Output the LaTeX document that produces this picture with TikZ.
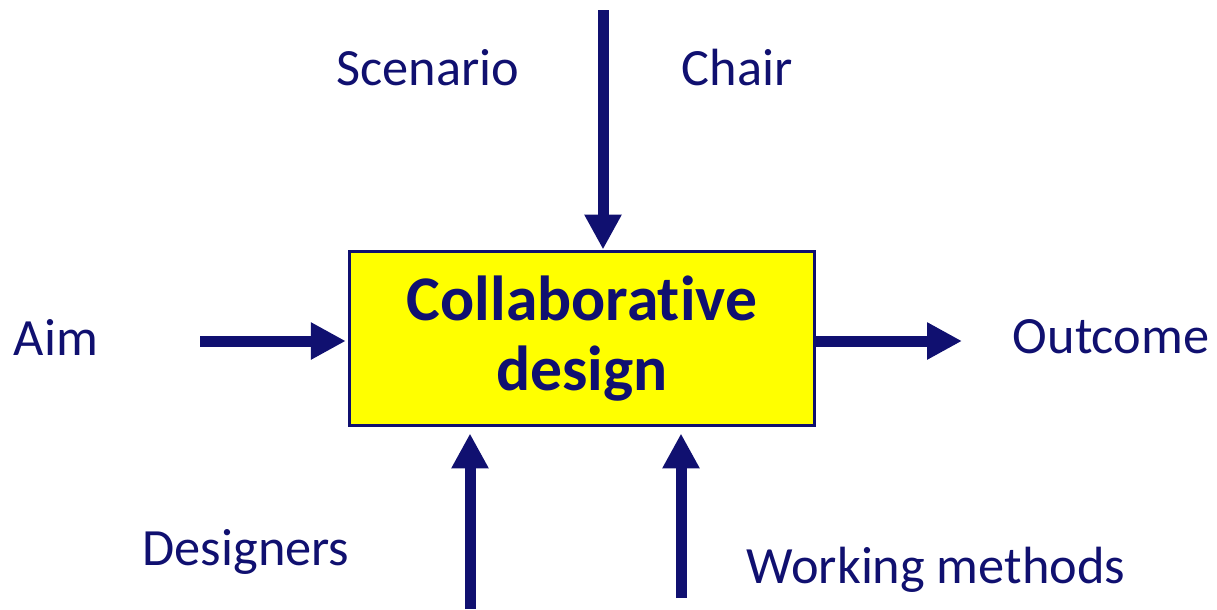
\documentclass[tikz,border=0pt]{standalone}
\usepackage{fontspec}
\setmainfont[Ligatures=NoCommon]{Carlito}
\usetikzlibrary{arrows.meta}
\definecolor{navy}{RGB}{16,16,112}
\definecolor{boxyellow}{RGB}{255,255,0}

\begin{document}
\begin{tikzpicture}[x=0.02cm, y=-0.02cm,
    label/.style={text=navy, inner sep=0pt, anchor=base, font=\fontsize{29.8}{35}\selectfont},
    flow/.style={draw=navy, line width=0.22cm, -{Triangle[width=0.7cm, length=0.7cm]}}]
    \useasboundingbox (0,0) rectangle (1217,609);

    % La boite centrale
    \node[draw=navy, line width=1.7pt, fill=boxyellow, minimum width=9.32cm, minimum height=3.5cm,
          text=navy, align=center, font=\fontsize{36.2}{39.5}\selectfont\bfseries] (design) at (582,338.5) {Collaborative\\design};

    % Les etiquettes
    \node[label] (scenario) at (428,85) {Scenario};
    \node[label] (chair) at (737,85) {Chair};
    \node[label] (aim) at (56,355) {Aim};
    \node[label] (outcome) at (1111,353) {Outcome};
    \node[label] (designers) at (246,565) {Designers};
    \node[label] (methods) at (936,583) {Working methods};

    % Les extremites libres des fleches
    \coordinate (control) at (603,10);
    \coordinate (input) at (200,341);
    \coordinate (output) at (962,341);
    \coordinate (mech1) at (470,609);
    \coordinate (mech2) at (681,598);

    % Les fleches
    \draw[flow] (control) -- (control |- design.north);
    \draw[flow, shorten >=1pt] (input) -- (input -| design.west);
    \draw[flow] (design.east |- output) -- (output);
    \draw[flow, shorten >=3.4pt] (mech1) -- (mech1 |- design.south);
    \draw[flow, shorten >=3.4pt] (mech2) -- (mech2 |- design.south);
\end{tikzpicture}
\end{document}
